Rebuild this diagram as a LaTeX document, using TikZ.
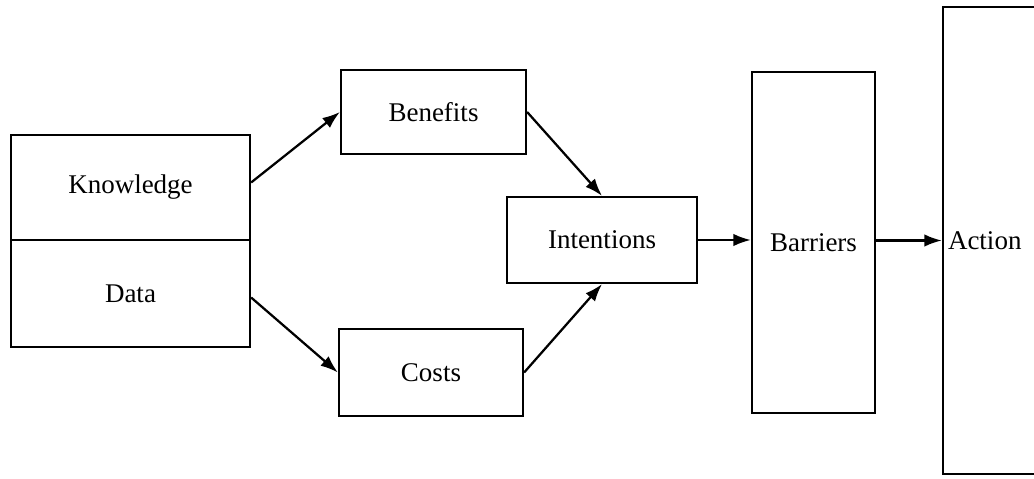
\documentclass[tikz,border=0pt]{standalone}
\usepackage{fontspec}
\setmainfont{Liberation Serif}
\usepackage{tikz}
\usetikzlibrary{arrows.meta}

\begin{document}
\begin{tikzpicture}[>={Latex[length=7pt,width=5pt]}, x=0.4pt, y=-0.4pt, line width=0.9pt,
  box/.style={draw, rectangle, inner sep=0pt, font=\fontsize{10.8}{13}\selectfont}]

\useasboundingbox (0,0) rectangle (1034,479);

% left block
\node[box, minimum width=95.6pt, minimum height=42pt] (know) at (130.5,187.5) {Knowledge};
\node[box, minimum width=95.6pt, minimum height=42.8pt] (data) at (130.5,293.5) {Data};

\node[box, minimum width=74pt, minimum height=33.6pt] (ben) at (433.5,112) {Benefits};
\node[box, minimum width=73.6pt, minimum height=34.8pt] (cost) at (431,372.5) {Costs};

\node[box, minimum width=76pt, minimum height=34.4pt] (intent) at (602,240) {Intentions};
\node[box, minimum width=49.2pt, minimum height=136.4pt] (barr) at (813.5,242.5) {Barriers};

% action box runs off the page
\node[box, minimum width=60pt, minimum height=186.8pt] (action) at (1018,240.5) {};
\node[font=\fontsize{10.8}{13}\selectfont, anchor=west, inner sep=2pt] (actlbl) at (action.west) {Action};

\draw[->] (know.east) ++(0,-5) coordinate (k1) (k1) -- (ben.west);
\draw[->] (data.east) ++(0,4) coordinate (d1) (d1) -- (cost.west);
\draw[->] (ben.east) -- (intent.north);
\draw[->] (cost.east) -- (intent.south);
\draw[->] (intent.east) -- (intent.east -| barr.west);
\draw[->] (barr.east |- action.west) -- (action.west);

\end{tikzpicture}
\end{document}
